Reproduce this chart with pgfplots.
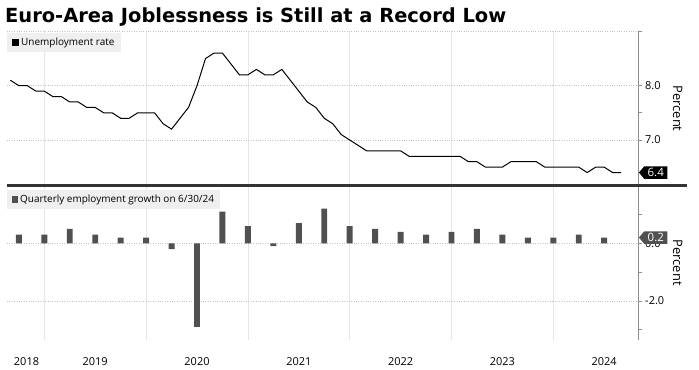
\documentclass[border=0pt]{standalone}
\usepackage{pgfplots}
\pgfplotsset{compat=1.18}
\usepackage{pgfplotstable}
\usepackage{fontspec}
\setmainfont{Open Sans}
\newfontfamily\titlefont{DejaVu Sans}
\usetikzlibrary{shapes.symbols}
\definecolor{bargray}{HTML}{505050}
\definecolor{leggray}{HTML}{EFEFEF}
\definecolor{gridh}{HTML}{C4C4C4}
\definecolor{gridv}{HTML}{E6E6E6}
\definecolor{axgray}{HTML}{8C8C8C}
\definecolor{sepgray}{HTML}{333333}

% x = months after 1 Jan 2019 (month-end dates)
\pgfplotstableread{
x y
-4 8.1
-3 8.0
-2 8.0
-1 7.9
0 7.9
1 7.8
2 7.8
3 7.7
4 7.7
5 7.6
6 7.6
7 7.5
8 7.5
9 7.4
10 7.4
11 7.5
12 7.5
13 7.5
14 7.3
15 7.2
16 7.4
17 7.6
18 8.0
19 8.5
20 8.6
21 8.6
22 8.4
23 8.2
24 8.2
25 8.3
26 8.2
27 8.2
28 8.3
29 8.1
30 7.9
31 7.7
32 7.6
33 7.4
34 7.3
35 7.1
36 7.0
37 6.9
38 6.8
39 6.8
40 6.8
41 6.8
42 6.8
43 6.7
44 6.7
45 6.7
46 6.7
47 6.7
48 6.7
49 6.7
50 6.6
51 6.6
52 6.5
53 6.5
54 6.5
55 6.6
56 6.6
57 6.6
58 6.6
59 6.5
60 6.5
61 6.5
62 6.5
63 6.5
64 6.4
65 6.5
66 6.5
67 6.4
68 6.4
}\unemp

\pgfplotstableread{
x y
-3 0.3
0 0.3
3 0.5
6 0.3
9 0.2
12 0.2
15 -0.2
18 -2.9
21 1.1
24 0.6
27 -0.1
30 0.7
33 1.2
36 0.6
39 0.5
42 0.4
45 0.3
48 0.4
51 0.5
54 0.3
57 0.2
60 0.2
63 0.3
66 0.2
}\emp

\pgfplotsset{
  panel/.style={
    scale only axis, width=631.7bp,
    xmin=-4.4, xmax=70.07,
    clip=false,
    axis x line*=bottom, axis y line*=right,
    x axis line style={draw=none},
    y axis line style={draw=axgray, line width=0.8bp, -},
    tick align=outside,
    major tick length=3bp, minor tick length=3bp,
    ytick style={axgray, line width=0.7bp},
    xtick style={draw=none},
    minor xtick={0,12,...,60},
    xminorgrids,
    minor x grid style={gridv, line width=0.7bp},
    ymajorgrids,
    major y grid style={gridh, dotted, line width=0.7bp},
    tick label style={font=\fontsize{11}{13}\selectfont, text=black},
    every axis y label/.style={at={(rel axis cs:1,0.5)}, anchor=center, xshift=39bp, rotate=-90, font=\fontsize{13}{15}\selectfont},
    legend style={at={(0,1)}, anchor=north west, yshift=-1.5bp, fill=leggray, draw=none,
      inner xsep=4.5bp, inner ysep=3bp, font=\fontsize{10}{12}\selectfont, cells={anchor=west}},
  },
}

\begin{document}
\begin{tikzpicture}
\useasboundingbox (0,0) rectangle (699bp,-370bp);
\node[anchor=base west, font=\fontsize{19.5}{22}\selectfont\titlefont\bfseries, inner sep=0pt] at (5bp,-22.7bp) {Euro-Area Joblessness is Still at a Record Low};

\begin{axis}[panel,
  at={(7bp,-31.4bp)}, anchor=north west, height=154.3bp,
  ymin=6.158, ymax=9.0,
  ytick={7,8,9}, yticklabels={7.0,8.0,{}},
  minor ytick={7.5},
  xtick={6}, xticklabels={{}},
  ylabel={Percent},
  legend image code/.code={\fill[black] (0bp,-3.2bp) rectangle (6.5bp,3.2bp);},
]
\addplot[black, line width=1bp, mark=none] table[x=x,y=y] {\unemp};
\addlegendentry{Unemployment rate}
\node[signal, signal to=west, signal pointer angle=100, fill=black, text=white,
  font=\fontsize{11.5}{13}\selectfont, inner xsep=3.5bp, inner ysep=2bp, anchor=west]
  at (axis cs:70.07,6.4) {6.4};
\end{axis}

\begin{axis}[panel,
  at={(7bp,-185.7bp)}, anchor=north west, height=154.1bp,
  ymin=-3.35, ymax=2.0,
  ytick={-2,0}, yticklabels={-2.0,0.0},
  minor ytick={-3,-1,1},
  xtick={-2.1,6,18,30,42,54,66},
  xticklabels={2018,2019,2020,2021,2022,2023,2024},
  xticklabel style={yshift=-11bp},
  ylabel={Percent},
  legend style={yshift=-2.5bp},
  legend image code/.code={\fill[bargray] (0bp,-3.2bp) rectangle (6.5bp,3.2bp);},
]
\addplot[ybar, bar width=0.7, bar shift=0pt, fill=bargray, draw=none] table[x=x,y=y] {\emp};
\addlegendentry{Quarterly employment growth on 6/30/24}
\node[signal, signal to=west, signal pointer angle=100, fill=bargray, text=white,
  font=\fontsize{11.5}{13}\selectfont, inner xsep=3.5bp, inner ysep=2bp, anchor=west]
  at (axis cs:70.07,0.2) {0.2};
\end{axis}

\draw[sepgray, line width=2.6bp] (7bp,-185.7bp) -- (687bp,-185.7bp);
\end{tikzpicture}
\end{document}
